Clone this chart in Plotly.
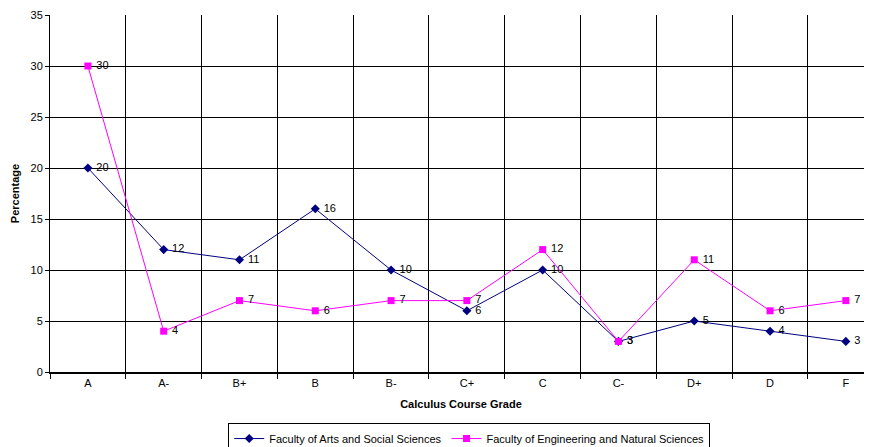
import plotly.graph_objects as go

grades = ["A", "A-", "B+", "B", "B-", "C+", "C", "C-", "D+", "D", "F"]
arts = [20, 12, 11, 16, 10, 6, 10, 3, 5, 4, 3]
eng = [30, 4, 7, 6, 7, 7, 12, 3, 11, 6, 7]
y_ticks = [0, 5, 10, 15, 20, 25, 30, 35]

font_family = "Arial, Liberation Sans, sans-serif"

fig = go.Figure()
fig.add_trace(go.Scatter(
    x=grades, y=arts, mode="lines+markers+text",
    name="Faculty of Arts and Social Sciences",
    line=dict(color="#000080", width=1),
    marker=dict(symbol="diamond", size=7, color="#000080"),
    text=[" " + str(v) for v in arts], textposition="middle right",
    textfont=dict(size=11, color="#000000", family=font_family),
    cliponaxis=False,
))
fig.add_trace(go.Scatter(
    x=grades, y=eng, mode="lines+markers+text",
    name="Faculty of Engineering and Natural Sciences",
    line=dict(color="#FF00FF", width=1),
    marker=dict(symbol="square", size=7, color="#FF00FF"),
    text=[" " + str(v) for v in eng], textposition="middle right",
    textfont=dict(size=11, color="#000000", family=font_family),
    cliponaxis=False,
))

fig.update_layout(
    width=864, height=439,
    margin=dict(l=42, r=0, t=7, b=75, autoexpand=False),
    paper_bgcolor="white", plot_bgcolor="white",
    font=dict(family=font_family, size=11, color="#000000"),
    showlegend=True,
    legend=dict(
        orientation="h", x=0.51, xanchor="center", y=-0.143, yanchor="top",
        bordercolor="#000000", borderwidth=1, font=dict(size=11),
        itemwidth=30, tracegroupgap=0,
    ),
    xaxis=dict(
        type="category", categoryorder="array", categoryarray=grades,
        range=[-0.5, 10.345], automargin=False,
        tickson="boundaries", ticks="outside", ticklen=5, tickcolor="#000000",
        showgrid=True, gridcolor="#000000", gridwidth=1,
        showline=True, linecolor="#000000", linewidth=2,
        tickfont=dict(size=11),
        title=dict(text="<b>Calculus Course Grade</b>", font=dict(size=11), standoff=12),
    ),
    yaxis=dict(
        range=[0, 35], tickvals=y_ticks, automargin=False,
        ticks="outside", ticklen=4, tickcolor="#000000",
        showgrid=True, gridcolor="#000000", gridwidth=1,
        showline=True, linecolor="#000000", linewidth=1,
        zeroline=False,
        tickfont=dict(size=11),
        title=dict(text="<b>Percentage</b>", font=dict(size=11), standoff=8),
    ),
)

fig.write_html("out.html")
